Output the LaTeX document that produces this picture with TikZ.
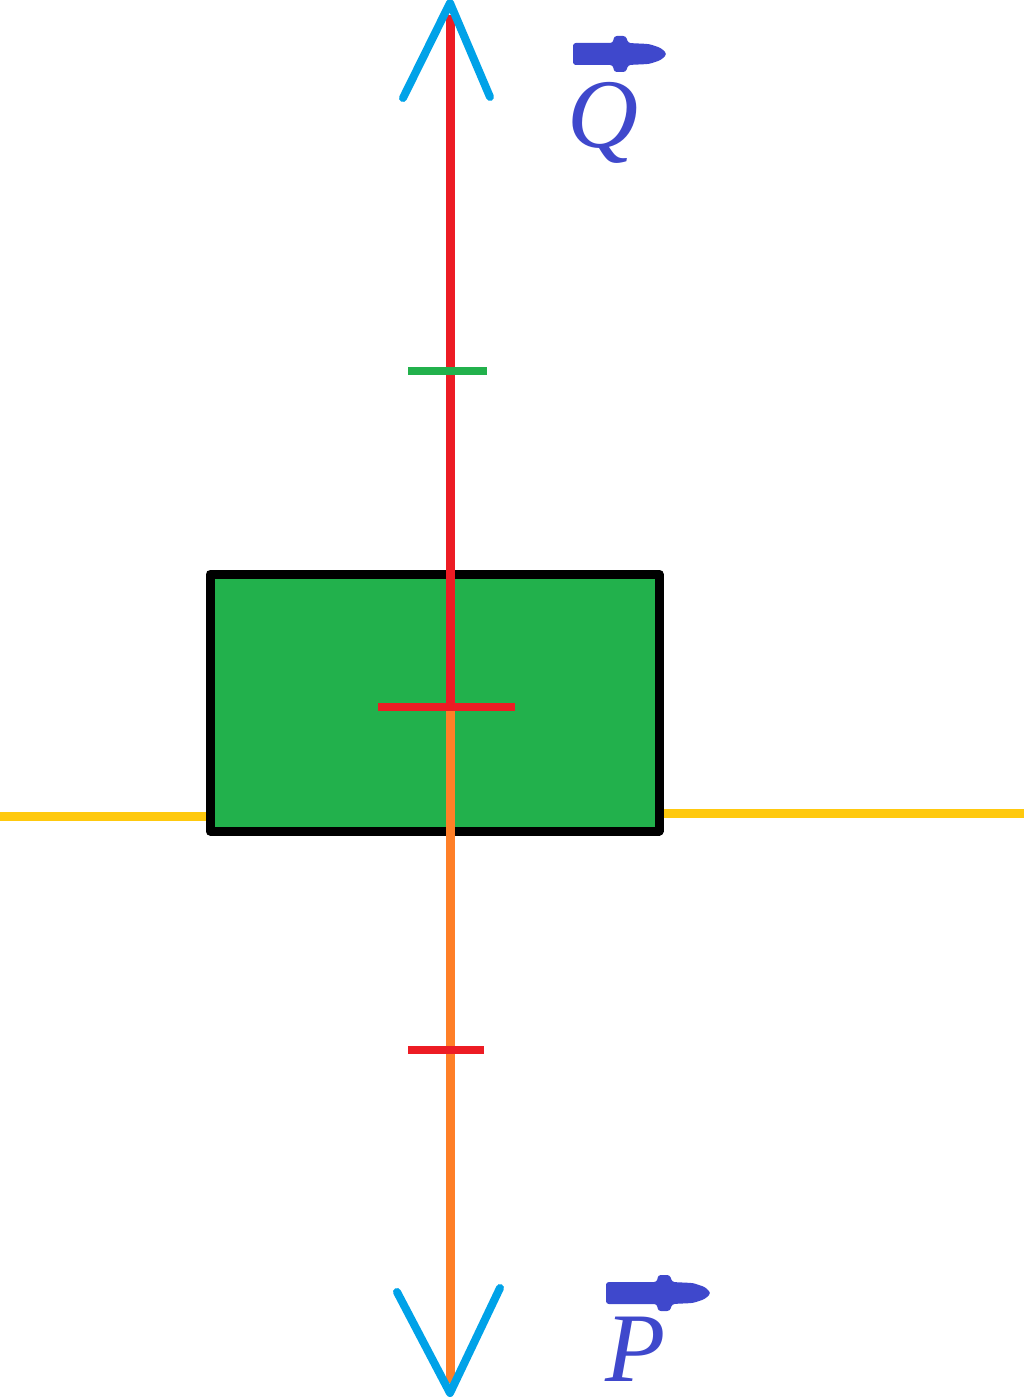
\documentclass[tikz,border=0pt]{standalone}
\usepackage{fontspec}
\setmainfont{Liberation Serif}
\usetikzlibrary{positioning}
\definecolor{pred}{HTML}{ED1C24}
\definecolor{porange}{HTML}{FF7F27}
\definecolor{pyellow}{HTML}{FFC90E}
\definecolor{pgreen}{HTML}{22B14C}
\definecolor{pblue}{HTML}{00A2E8}
\definecolor{pindigo}{HTML}{3F48CC}
\begin{document}
\begin{tikzpicture}[x=0.025cm,y=-0.025cm,line join=round,
	ax/.style={line width=6.4pt},
	tick/.style={line width=5.7pt},
	tipline/.style={pblue,line width=5.7pt,line cap=round},
	lbl/.style={pindigo,anchor=base,inner sep=0pt,font=\fontsize{70}{70}\selectfont\itshape}]
		\useasboundingbox (0,0) rectangle (1024,1400);
		\def\vecsym(#1,#2,#3){\fill[pindigo,rounded corners=2pt] (#1,#2-11)--(#1+#3,#2-11)--(#1+#3+1,#2-18)--(#1+#3+13,#2-18)--(#1+#3+15,#2-11)--(#1+#3+36,#2-10)--(#1+#3+48,#2-6)--(#1+#3+54,#2)--(#1+#3+48,#2+6)--(#1+#3+36,#2+10)--(#1+#3+15,#2+11)--(#1+#3+13,#2+18)--(#1+#3+1,#2+18)--(#1+#3,#2+11)--(#1,#2+11)--cycle;}
		\coordinate (top) at (450,3);
		\coordinate (bot) at (450,1393);
		\coordinate (mid) at (450,707);
		\draw[pyellow,ax] (0,816)--(210,816);
		\draw[pyellow,ax] (659,813)--(1024,813);
		\draw[fill=pgreen,line width=6.4pt] (210,574) rectangle (659,831);
		\draw[pred,ax] (450,15)--(mid);
		\draw[porange,ax] (mid)--(450,1383);
		\draw[pred,tick] (378,707)--(515,707);
		\draw[pgreen,tick] (408,371)--(487,371);
		\draw[pred,tick] (408,1050)--(484,1050);
		\draw[tipline] (403,98)--(top)--(490,97);
		\draw[tipline] (397,1292)--(bot)--(500,1288);
		\vecsym(573,54,40)
		\vecsym(606,1293,51)
		\node[lbl] (labQ) at (603,147) {Q};
		\node[lbl] (labP) at (636,1381) {P};
\end{tikzpicture}
\end{document}
